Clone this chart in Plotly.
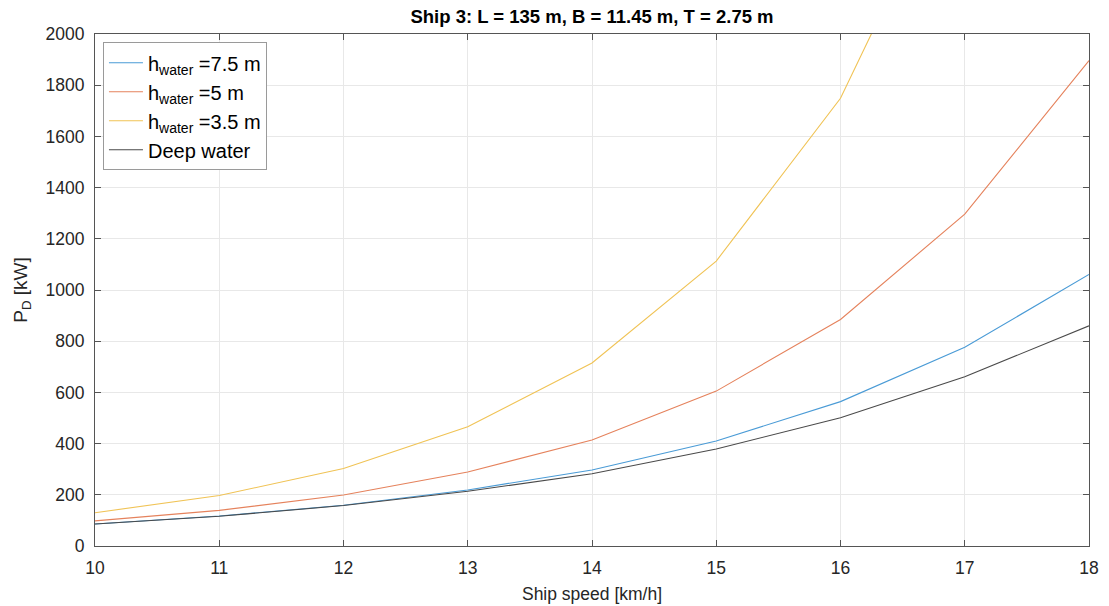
import plotly.graph_objects as go

# Ship speed [km/h]
speed = [10, 11, 12, 13, 14, 15, 16, 17, 18]

# Delivered power P_D [kW] per water depth
pd_h75 = [86, 117, 159, 219, 297, 410, 564, 776, 1061]
pd_h5 = [98, 139, 199, 289, 414, 605, 885, 1296, 1896]
pd_h35 = [130, 197, 303, 466, 715, 1113, 1749, 2760, 3900]
pd_deep = [86, 116, 158, 214, 282, 379, 501, 661, 860]

SUB = "<sub>water</sub>"
series_names = ["h" + SUB + " =7.5 m", "h" + SUB + " =5 m",
                "h" + SUB + " =3.5 m", "Deep water"]
series_colors = ["#4a9bd6", "#e5825c", "#f0c355", "#4a4a4a"]
series_values = [pd_h75, pd_h5, pd_h35, pd_deep]

x_ticks = [10, 11, 12, 13, 14, 15, 16, 17, 18]
y_ticks = [0, 200, 400, 600, 800, 1000, 1200, 1400, 1600, 1800, 2000]

FONT = "Liberation Sans, Arial, sans-serif"

fig = go.Figure()
for name, color, vals in zip(series_names, series_colors, series_values):
    fig.add_trace(go.Scatter(x=speed, y=vals, mode="lines", name=name,
                             line=dict(color=color, width=1.1)))

axis_common = dict(showline=True, linecolor="#555555", linewidth=1, mirror="ticks",
                   ticks="inside", ticklen=6, tickcolor="#555555",
                   showgrid=True, gridcolor="#e8e8e8", gridwidth=1, zeroline=False,
                   automargin=False,
                   tickfont=dict(family=FONT, size=17.5, color="#262626"))

fig.update_layout(
    width=1109, height=606,
    margin=dict(l=95, r=20, t=34, b=60),
    paper_bgcolor="white", plot_bgcolor="white",
    font=dict(family=FONT, color="#262626"),
    title=dict(text="<b>Ship 3: L = 135 m, B = 11.45 m, T = 2.75 m</b>",
               x=0.5, xanchor="center", xref="paper", y=0.972, yanchor="middle",
               font=dict(family=FONT, size=18.5, color="black")),
    xaxis=dict(range=[10, 18], tickvals=x_ticks, ticklabelstandoff=6,
               title=dict(text="Ship speed [km/h]", font=dict(family=FONT, size=17.5), standoff=10),
               **axis_common),
    yaxis=dict(range=[0, 2000], tickvals=y_ticks, ticklabelstandoff=6,
               title=dict(text="P<sub>D</sub> [kW]", font=dict(family=FONT, size=19), standoff=12),
               **axis_common),
    legend=dict(x=0.008, y=0.984, xanchor="left", yanchor="top",
                bgcolor="white", bordercolor="#9a9a9a", borderwidth=1,
                font=dict(family=FONT, size=20, color="black"),
                tracegroupgap=1, itemwidth=34),
    showlegend=True,
)

fig.write_html("out.html")
